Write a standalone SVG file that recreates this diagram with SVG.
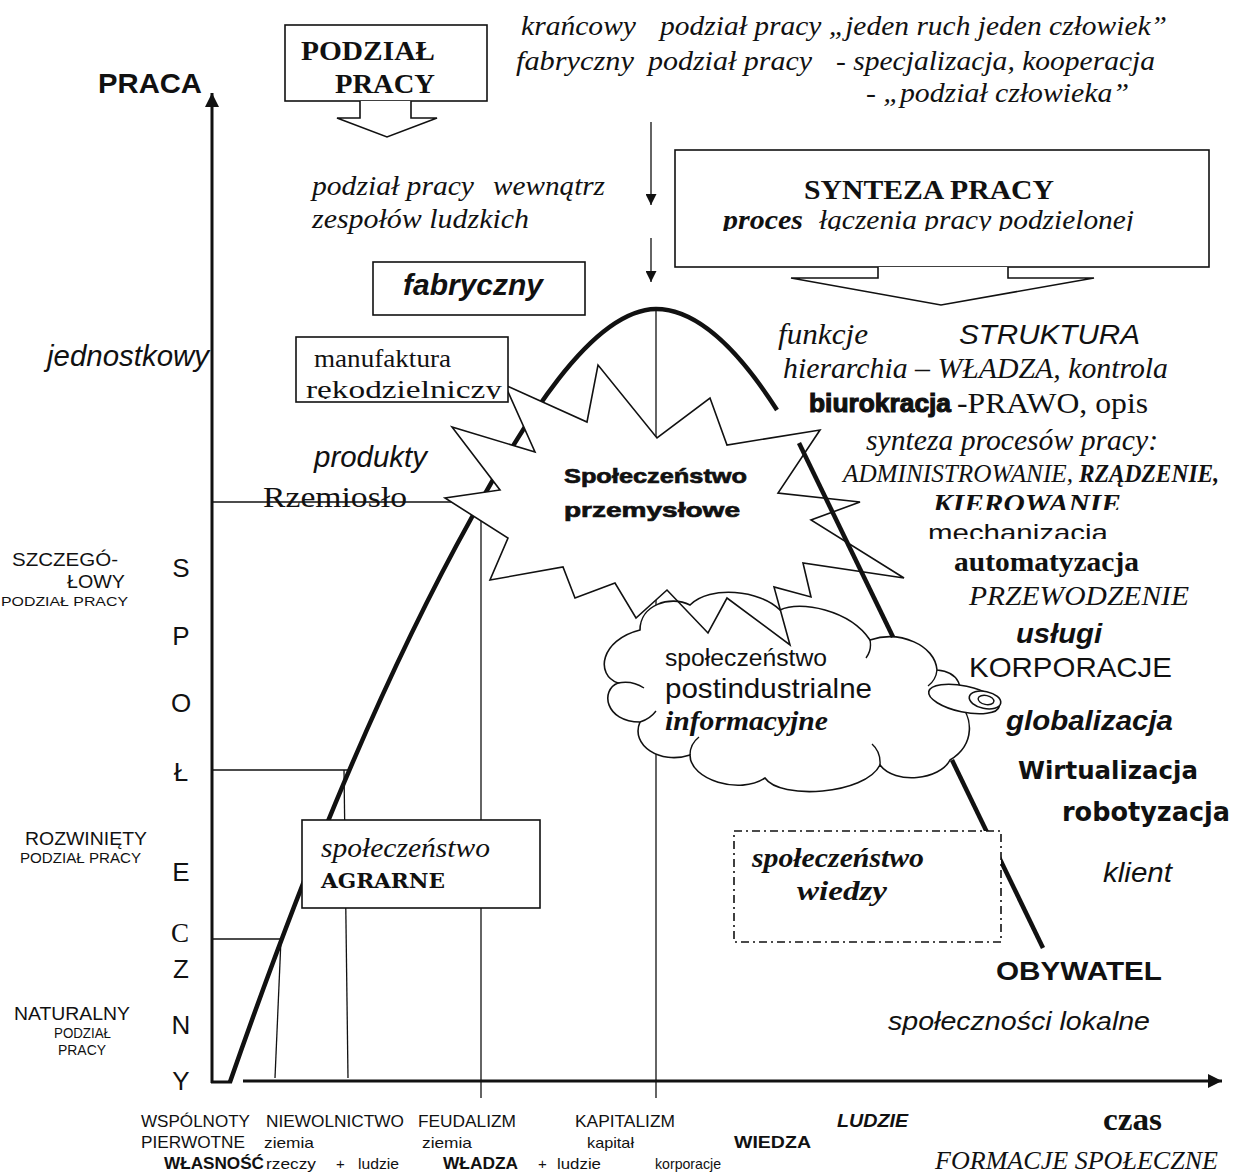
<svg xmlns="http://www.w3.org/2000/svg" width="1236" height="1173" viewBox="0 0 1236 1173">
<defs>
<style>
text{fill:#111}
.s{font-family:"Liberation Sans",Arial,sans-serif}
.r{font-family:"Liberation Serif","Times New Roman",serif}
.dv{font-family:"DejaVu Sans",sans-serif}
.dvs{font-family:"DejaVu Serif",serif}
.b{font-weight:bold}
.i{font-style:italic}
.box{fill:#fff;stroke:#111;stroke-width:1.6}
.thin{stroke:#111;stroke-width:1.3;fill:none}
.thick{stroke:#111;stroke-width:4.5;fill:none;stroke-linecap:butt}
.axis{stroke:#111;stroke-width:3;fill:none}
.heavy{stroke:#111;stroke-width:0.7}
</style>
<marker id="ah" viewBox="0 0 10 10" refX="10" refY="5" markerWidth="15" markerHeight="14" markerUnits="userSpaceOnUse" orient="auto"><path d="M0,0L10,5L0,10z" fill="#111"/></marker>
<marker id="ahs" viewBox="0 0 10 10" refX="10" refY="5" markerWidth="13" markerHeight="11" markerUnits="userSpaceOnUse" orient="auto"><path d="M0,0L10,5L0,10z" fill="#111"/></marker>
<clipPath id="clipSyn"><rect x="680" y="200" width="520" height="31"/></clipPath>
<clipPath id="clipMan"><rect x="298" y="339" width="208" height="60"/></clipPath>
<clipPath id="clipKier"><rect x="900" y="488" width="300" height="22"/></clipPath>
<clipPath id="clipMech"><rect x="900" y="513" width="300" height="26"/></clipPath>
</defs>
<rect width="1236" height="1173" fill="#fff"/>

<g id="connectors">
  <line class="thin" x1="212" y1="502" x2="480" y2="502"/>
  <line class="thin" x1="481" y1="502" x2="481" y2="1098"/>
  <line class="thin" x1="656" y1="310" x2="656" y2="1098"/>
  <line class="thin" x1="212" y1="770" x2="350" y2="770"/>
  <line class="thin" x1="344" y1="770" x2="348" y2="1078"/>
  <line class="thin" x1="212" y1="939" x2="282" y2="939"/>
  <line class="thin" x1="281" y1="939" x2="275" y2="1078"/>
  <line class="axis" x1="212" y1="1083" x2="212" y2="93" marker-end="url(#ah)"/>
  <line class="axis" x1="243" y1="1081" x2="1222" y2="1081" marker-end="url(#ah)"/>
  <line class="axis" x1="211" y1="1082" x2="232" y2="1082"/>
  <line class="thin" x1="651" y1="122" x2="651" y2="205" marker-end="url(#ahs)"/>
  <line class="thin" x1="651" y1="238" x2="651" y2="282" marker-end="url(#ahs)"/>
  <path class="thick" d="M230,1082 C290,910 370,700 472,517 C522,427 590,310 656,309 C702,309 745,360 777,410"/>
</g>

<g id="cloud-fill">
  <path fill="#fff" stroke="none" d="M640,630 C640,605 670,595 690,605 C710,585 760,590 780,610 C800,600 850,610 870,640 C900,630 935,645 937,670 C960,672 965,690 955,700 C975,715 975,745 950,760 C940,780 895,785 880,765 C865,795 780,800 765,778 C740,795 690,780 690,755 C660,765 630,745 640,722 C605,722 600,690 618,683 C595,675 600,640 640,630 Z"/>
</g>

<g id="star">
  <polygon fill="#fff" stroke="#111" stroke-width="1.6" stroke-linejoin="miter" points="505,385 587,422 598,365 657,438 710,398 727,445 820,430 778,493 860,502 811,520 904,578 803,563 811,597 774,587 790,645 727,598 708,633 667,590 636,618 615,583 575,598 563,567 490,580 508,538 445,498 500,490 452,427 535,452"/>
  <text class="s b heavy" x="564" y="483" font-size="21" textLength="183" lengthAdjust="spacingAndGlyphs">Społeczeństwo</text>
  <text class="s b heavy" x="564" y="517" font-size="21" textLength="176" lengthAdjust="spacingAndGlyphs">przemysłowe</text>
</g>

<g id="curve-right">
  <line class="thick" x1="799" y1="443" x2="893" y2="637"/>
</g>

<g id="cloud">
  <path fill="none" stroke="#111" stroke-width="1.6" d="M640,630 C640,605 670,595 690,605 C710,585 760,590 780,610 C800,600 850,610 870,640 C900,630 935,645 937,670 C960,672 965,690 955,700 C975,715 975,745 950,760 C940,780 895,785 880,765 C865,795 780,800 765,778 C740,795 690,780 690,755 C660,765 630,745 640,722 C605,722 600,690 618,683 C595,675 600,640 640,630 Z"/>
  <path fill="none" stroke="#111" stroke-width="1.4" d="M618,683 Q632,680 644,688 M640,722 Q650,719 656,711 M690,755 Q690,744 699,737 M880,765 Q881,752 872,744 M870,640 Q872,650 866,658 M937,670 Q936,680 928,686"/>
  <ellipse cx="964" cy="699" rx="36" ry="13" transform="rotate(12 964 699)" fill="#fff" stroke="#111" stroke-width="1.6"/>
  <ellipse cx="985" cy="700" rx="16" ry="8.5" transform="rotate(12 985 700)" fill="#fff" stroke="#111" stroke-width="1.6"/>
  <ellipse cx="986" cy="700" rx="8" ry="4.5" transform="rotate(12 986 700)" fill="none" stroke="#111" stroke-width="1.4"/>
  <text class="s" x="665" y="666" font-size="23" textLength="162" lengthAdjust="spacingAndGlyphs">społeczeństwo</text>
  <text class="s" x="665" y="698" font-size="28" textLength="207" lengthAdjust="spacingAndGlyphs">postindustrialne</text>
  <text class="r b i" x="665" y="730" font-size="28" textLength="163" lengthAdjust="spacingAndGlyphs">informacyjne</text>
</g>

<g id="curve-right-lower">
  <line class="thick" x1="952" y1="760" x2="1043" y2="948"/>
</g>

<g id="node-podzial">
  <rect class="box" x="285" y="25" width="202" height="76"/>
  <path class="box" d="M360,101 L360,118 L337,118 L387,137 L437,118 L411,118 L411,101"/>
  <text class="r b" x="301" y="60" font-size="27" textLength="134" lengthAdjust="spacingAndGlyphs">PODZIAŁ</text>
  <text class="r b" x="335" y="93" font-size="27" textLength="100" lengthAdjust="spacingAndGlyphs">PRACY</text>
</g>

<g id="node-synteza">
  <rect class="box" x="675" y="150" width="534" height="117"/>
  <path class="box" d="M878,267 L878,278 L791,278 L941,305 L1094,278 L1008,278 L1008,267"/>
  <text class="r b" x="804" y="199" font-size="28" textLength="250" lengthAdjust="spacingAndGlyphs">SYNTEZA PRACY</text>
  <g clip-path="url(#clipSyn)">
    <text class="r b i" x="723" y="229" font-size="28" textLength="80" lengthAdjust="spacingAndGlyphs">proces</text>
    <text class="r i" x="819" y="229" font-size="28" textLength="315" lengthAdjust="spacingAndGlyphs">łączenia pracy podzielonej</text>
  </g>
</g>

<g id="node-fabryczny">
  <rect class="box" x="373" y="262" width="212" height="53"/>
  <text class="s b i" x="403" y="295" font-size="29" textLength="140" lengthAdjust="spacingAndGlyphs">fabryczny</text>
</g>

<g id="node-manufaktura">
  <rect class="box" x="296" y="337" width="212" height="65"/>
  <g clip-path="url(#clipMan)">
    <text class="r" x="314" y="367" font-size="26" textLength="137" lengthAdjust="spacingAndGlyphs">manufaktura</text>
    <text class="r" x="306" y="398" font-size="26" textLength="196" lengthAdjust="spacingAndGlyphs">rękodzielniczy</text>
  </g>
</g>

<g id="node-agrarne">
  <rect class="box" x="302" y="820" width="238" height="88"/>
  <text class="r i" x="321" y="857" font-size="28" textLength="169" lengthAdjust="spacingAndGlyphs">społeczeństwo</text>
  <text class="dvs b" x="321" y="888" font-size="21" textLength="124" lengthAdjust="spacingAndGlyphs">AGRARNE</text>
</g>

<g id="node-wiedzy">
  <rect x="734" y="831" width="267" height="111" fill="#fff" stroke="#111" stroke-width="1.6" stroke-dasharray="8,4,2,4"/>
  <text class="r b i" x="752" y="867" font-size="28" textLength="172" lengthAdjust="spacingAndGlyphs">społeczeństwo</text>
  <text class="r b i" x="797" y="900" font-size="28" textLength="90" lengthAdjust="spacingAndGlyphs">wiedzy</text>
</g>

<g id="labels-top">
  <text class="s b" x="98" y="93" font-size="28" textLength="104" lengthAdjust="spacingAndGlyphs">PRACA</text>
  <text class="r i" x="521" y="35" font-size="27" textLength="115" lengthAdjust="spacingAndGlyphs">krańcowy</text>
  <text class="r i" x="660" y="35" font-size="27" textLength="507" lengthAdjust="spacingAndGlyphs">podział pracy „jeden ruch jeden człowiek”</text>
  <text class="r i" x="516" y="70" font-size="27" textLength="118" lengthAdjust="spacingAndGlyphs">fabryczny</text>
  <text class="r i" x="648" y="70" font-size="27" textLength="164" lengthAdjust="spacingAndGlyphs">podział pracy</text>
  <text class="r i" x="836" y="70" font-size="27" textLength="319" lengthAdjust="spacingAndGlyphs">- specjalizacja, kooperacja</text>
  <text class="r i" x="866" y="102" font-size="27" textLength="263" lengthAdjust="spacingAndGlyphs">- „podział człowieka”</text>
  <text class="r i" x="312" y="195" font-size="28" textLength="162" lengthAdjust="spacingAndGlyphs">podział pracy</text>
  <text class="r i" x="493" y="195" font-size="28" textLength="112" lengthAdjust="spacingAndGlyphs">wewnątrz</text>
  <text class="r i" x="312" y="228" font-size="28" textLength="217" lengthAdjust="spacingAndGlyphs">zespołów ludzkich</text>
</g>

<g id="labels-left">
  <text class="s i" x="47" y="366" font-size="29" textLength="162" lengthAdjust="spacingAndGlyphs">jednostkowy</text>
  <text class="s i" x="314" y="467" font-size="29" textLength="113" lengthAdjust="spacingAndGlyphs">produkty</text>
  <text class="r" x="263" y="507" font-size="30" textLength="144" lengthAdjust="spacingAndGlyphs">Rzemiosło</text>
  <text class="s" x="12" y="566" font-size="19" textLength="106" lengthAdjust="spacingAndGlyphs">SZCZEGÓ-</text>
  <text class="s" x="67" y="588" font-size="19" textLength="58" lengthAdjust="spacingAndGlyphs">ŁOWY</text>
  <text class="s" x="1" y="606" font-size="13" textLength="127" lengthAdjust="spacingAndGlyphs">PODZIAŁ  PRACY</text>
  <text class="s" x="25" y="845" font-size="19" textLength="122" lengthAdjust="spacingAndGlyphs">ROZWINIĘTY</text>
  <text class="s" x="20" y="863" font-size="14" textLength="121" lengthAdjust="spacingAndGlyphs">PODZIAŁ  PRACY</text>
  <text class="s" x="14" y="1020" font-size="19" textLength="116" lengthAdjust="spacingAndGlyphs">NATURALNY</text>
  <text class="s" x="54" y="1038" font-size="14" textLength="57" lengthAdjust="spacingAndGlyphs">PODZIAŁ</text>
  <text class="s" x="58" y="1055" font-size="14" textLength="48" lengthAdjust="spacingAndGlyphs">PRACY</text>
  <g class="s" font-size="26" text-anchor="middle">
    <text x="181" y="577">S</text>
    <text x="181" y="645">P</text>
    <text x="181" y="712">O</text>
    <text x="181" y="781">Ł</text>
    <text x="181" y="881">E</text>
    <text class="r" x="180" y="942" font-size="27">C</text>
    <text x="181" y="978">Z</text>
    <text x="181" y="1034">N</text>
    <text x="181" y="1090">Y</text>
  </g>
</g>

<g id="labels-right">
  <text class="r i" x="778" y="344" font-size="29" textLength="90" lengthAdjust="spacingAndGlyphs">funkcje</text>
  <text class="s i" x="959" y="344" font-size="28" textLength="181" lengthAdjust="spacingAndGlyphs">STRUKTURA</text>
  <text class="r i" x="783" y="378" font-size="29" textLength="385" lengthAdjust="spacingAndGlyphs">hierarchia – WŁADZA, kontrola</text>
  <text class="s b" x="809" y="412" font-size="26" textLength="142" lengthAdjust="spacingAndGlyphs" stroke="#111" stroke-width="1.1">biurokracja</text>
  <text class="r" x="957" y="413" font-size="30" textLength="191" lengthAdjust="spacingAndGlyphs">-PRAWO, opis</text>
  <text class="r i" x="866" y="450" font-size="29" textLength="292" lengthAdjust="spacingAndGlyphs">synteza procesów pracy:</text>
  <text class="r i" x="843" y="482" font-size="26" textLength="230" lengthAdjust="spacingAndGlyphs">ADMINISTROWANIE,</text>
  <text class="r b i" x="1079" y="482" font-size="26" textLength="140" lengthAdjust="spacingAndGlyphs">RZĄDZENIE,</text>
  <text class="r b i" x="933" y="512" font-size="26" textLength="188" lengthAdjust="spacingAndGlyphs" clip-path="url(#clipKier)">KIEROWANIE</text>
  <text class="s" x="928" y="541" font-size="24" textLength="180" lengthAdjust="spacingAndGlyphs" clip-path="url(#clipMech)">mechanizacja</text>
  <text class="r b" x="954" y="571" font-size="28" textLength="185" lengthAdjust="spacingAndGlyphs">automatyzacja</text>
  <text class="r i" x="969" y="605" font-size="28" textLength="220" lengthAdjust="spacingAndGlyphs">PRZEWODZENIE</text>
  <text class="s b i" x="1016" y="643" font-size="27" textLength="86" lengthAdjust="spacingAndGlyphs">usługi</text>
  <text class="s" x="969" y="677" font-size="28" textLength="203" lengthAdjust="spacingAndGlyphs">KORPORACJE</text>
  <text class="s b i" x="1006" y="730" font-size="27" textLength="167" lengthAdjust="spacingAndGlyphs">globalizacja</text>
  <text class="dv b" x="1018" y="779" font-size="24" textLength="180" lengthAdjust="spacingAndGlyphs">Wirtualizacja</text>
  <text class="dv b" x="1062" y="821" font-size="26" textLength="168" lengthAdjust="spacingAndGlyphs">robotyzacja</text>
  <text class="s i" x="1103" y="882" font-size="28" textLength="69" lengthAdjust="spacingAndGlyphs">klient</text>
  <text class="s b" x="996" y="980" font-size="26" textLength="166" lengthAdjust="spacingAndGlyphs">OBYWATEL</text>
  <text class="s i" x="888" y="1030" font-size="26" textLength="262" lengthAdjust="spacingAndGlyphs">społeczności lokalne</text>
</g>

<g id="labels-bottom">
  <text class="s" x="141" y="1127" font-size="17" textLength="109" lengthAdjust="spacingAndGlyphs">WSPÓLNOTY</text>
  <text class="s" x="266" y="1127" font-size="17" textLength="138" lengthAdjust="spacingAndGlyphs">NIEWOLNICTWO</text>
  <text class="s" x="418" y="1127" font-size="17" textLength="98" lengthAdjust="spacingAndGlyphs">FEUDALIZM</text>
  <text class="s" x="575" y="1127" font-size="17" textLength="100" lengthAdjust="spacingAndGlyphs">KAPITALIZM</text>
  <text class="s b i" x="837" y="1127" font-size="18" textLength="71" lengthAdjust="spacingAndGlyphs">LUDZIE</text>
  <text class="r b" x="1103" y="1130" font-size="32" textLength="59" lengthAdjust="spacingAndGlyphs">czas</text>
  <text class="s" x="141" y="1148" font-size="17" textLength="104" lengthAdjust="spacingAndGlyphs">PIERWOTNE</text>
  <text class="s" x="264" y="1148" font-size="15" textLength="50" lengthAdjust="spacingAndGlyphs">ziemia</text>
  <text class="s" x="422" y="1148" font-size="15" textLength="50" lengthAdjust="spacingAndGlyphs">ziemia</text>
  <text class="s" x="587" y="1148" font-size="15" textLength="47" lengthAdjust="spacingAndGlyphs">kapitał</text>
  <text class="s b" x="734" y="1148" font-size="17" textLength="77" lengthAdjust="spacingAndGlyphs">WIEDZA</text>
  <text class="s b" x="164" y="1169" font-size="16" textLength="100" lengthAdjust="spacingAndGlyphs">WŁASNOŚĆ</text>
  <text class="s" x="266" y="1169" font-size="15" textLength="50" lengthAdjust="spacingAndGlyphs">rzeczy</text>
  <text class="s" x="336" y="1169" font-size="15">+</text>
  <text class="s" x="358" y="1169" font-size="15" textLength="41" lengthAdjust="spacingAndGlyphs">ludzie</text>
  <text class="s b" x="443" y="1169" font-size="16" textLength="75" lengthAdjust="spacingAndGlyphs">WŁADZA</text>
  <text class="s" x="538" y="1169" font-size="15">+</text>
  <text class="s" x="557" y="1169" font-size="15" textLength="44" lengthAdjust="spacingAndGlyphs">ludzie</text>
  <text class="s" x="655" y="1169" font-size="15" textLength="66" lengthAdjust="spacingAndGlyphs">korporacje</text>
  <text class="r i" x="935" y="1169" font-size="25" textLength="283" lengthAdjust="spacingAndGlyphs">FORMACJE SPOŁECZNE</text>
</g>
</svg>
